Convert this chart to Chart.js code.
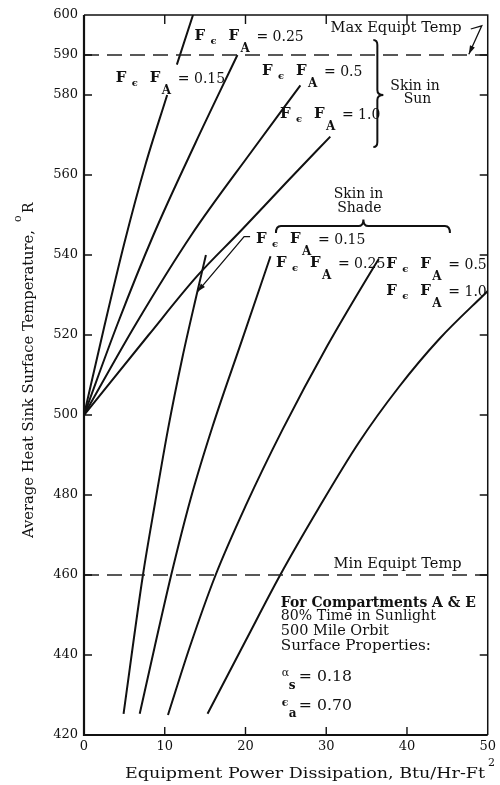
<!DOCTYPE html>
<html>
<head>
<meta charset="utf-8">
<script src="https://cdn.jsdelivr.net/npm/chart.js@4.4.1/dist/chart.umd.min.js"></script>
<style>
  html, body { margin: 0; padding: 0; background: #fff; }
  canvas { display: block; }
</style>
</head>
<body>
<canvas id="c" width="500" height="785"></canvas>
<script>
// ---------- data ----------
const xTickValues = [0, 10, 20, 30, 40, 50];
const yTickValues = [420, 440, 460, 480, 500, 520, 540, 560, 580, 590, 600];

const maxEquipTemp = 590;
const minEquipTemp = 460;

// Skin in Sun curves
const sun015X = [0, 2.5, 5.0, 7.6, 10.3, 10.9, 11.5, 13.5];
const sun015Y = [500, 522, 543, 562.5, 580, null, 587.6, 600];
const sun025X = [0, 4.2, 8.6, 13.8, 19.0];
const sun025Y = [500, 523, 545, 568, 590];
const sun05X  = [0, 6.5, 13.3, 20.8, 26.8];
const sun05Y  = [500, 523, 545, 566, 582.4];
const sun10X  = [0, 8.0, 14.0, 19.4, 25.0, 30.5];
const sun10Y  = [500, 520, 534.7, 546, 558, 569.6];

// Skin in Shade curves
const shade015X = [4.9, 7.3, 8.8, 10.4, 12.2, 14.0, 15.1];
const shade015Y = [425.3, 460, 478, 496.4, 514.5, 530.5, 540];
const shade025X = [6.9, 8.75, 10.8, 13.2, 15.9, 19.6, 23.1];
const shade025Y = [425.3, 442, 460, 479, 497, 518.9, 539.7];
const shade05X  = [10.4, 13.1, 16.3, 20.0, 24.6, 30.1, 35.7, 36.5];
const shade05Y  = [425, 442, 460, 477.2, 496.4, 517.2, 536.4, 539];
const shade10X  = [15.3, 20.0, 24.3, 29.0, 34.0, 39.0, 44.0, 50.0];
const shade10Y  = [425.3, 443.5, 460, 476.5, 493, 507, 519, 531];

// ---------- helpers ----------
const zip = (xs, ys) => xs.map((x, i) => ({ x: x, y: ys[i] }));
const SERIF = '"DejaVu Serif", "Liberation Serif", serif';
const INK = '#111';

function curve(label, xs, ys) {
  return {
    label: label, data: zip(xs, ys),
    borderColor: INK, borderWidth: 2, pointRadius: 0,
    cubicInterpolationMode: 'monotone', fill: false, spanGaps: false
  };
}
function hLine(label, v) {
  return {
    label: label, data: [{ x: 0, y: v }, { x: 50, y: v }],
    borderColor: '#222', borderWidth: 1.4, borderDash: [15, 8],
    pointRadius: 0, fill: false
  };
}

// draw text stretched horizontally to a target width
function stretch(ctx, text, x, y, target) {
  const w = ctx.measureText(text).width;
  const sx = target ? target / w : 1;
  ctx.save();
  ctx.translate(x, y);
  ctx.scale(sx, 1);
  ctx.fillText(text, 0, 0);
  ctx.restore();
}

function fLabel(ctx, x, y, val) {
  ctx.font = 'bold 15px ' + SERIF; ctx.fillText('F', x, y);
  ctx.font = 'bold 10px ' + SERIF; ctx.fillText('ϵ', x + 16, y + 4);
  ctx.font = 'bold 15px ' + SERIF; ctx.fillText('F', x + 34, y);
  ctx.font = 'bold 12px ' + SERIF; ctx.fillText('A', x + 46, y + 12);
  ctx.font = '14px ' + SERIF;      ctx.fillText('= ' + val, x + 62, y + 1);
}

const annotations = {
  id: 'annotations',
  afterDraw(chart) {
    const ctx = chart.ctx;
    const xs = chart.scales.x, ys = chart.scales.y;
    const X = v => xs.getPixelForValue(v);
    const Y = v => ys.getPixelForValue(v);
    const a = chart.chartArea;
    ctx.save();
    ctx.fillStyle = INK; ctx.strokeStyle = INK;
    ctx.textAlign = 'left'; ctx.textBaseline = 'alphabetic';

    // frame
    ctx.lineWidth = 1.5;
    ctx.beginPath();
    ctx.moveTo(a.left, a.top); ctx.lineTo(a.right, a.top); ctx.lineTo(a.right, a.bottom);
    ctx.stroke();
    ctx.lineWidth = 2.2;
    ctx.beginPath();
    ctx.moveTo(a.left, a.top); ctx.lineTo(a.left, a.bottom); ctx.lineTo(a.right, a.bottom);
    ctx.stroke();

    // inward ticks
    ctx.lineWidth = 1.4;
    ctx.beginPath();
    xTickValues.slice(1, -1).forEach(v => {
      const p = X(v);
      ctx.moveTo(p, a.bottom); ctx.lineTo(p, a.bottom - 8);
      ctx.moveTo(p, a.top); ctx.lineTo(p, a.top + 9);
    });
    yTickValues.slice(1, -1).forEach(v => {
      const p = Y(v);
      ctx.moveTo(a.left, p); ctx.lineTo(a.left + 8, p);
      ctx.moveTo(a.right, p); ctx.lineTo(a.right - 8, p);
    });
    ctx.stroke();

    // curve labels
    fLabel(ctx, X(3.94), Y(583.25), '0.15');
    fLabel(ctx, X(13.67), Y(593.75), '0.25');
    fLabel(ctx, X(22.04), Y(585), '0.5');
    fLabel(ctx, X(24.26), Y(574.25), '1.0');
    fLabel(ctx, X(21.31), Y(543), '0.15');
    fLabel(ctx, X(23.77), Y(537), '0.25');
    fLabel(ctx, X(37.44), Y(536.75), '0.5');
    fLabel(ctx, X(37.44), Y(530), '1.0');

    // plain texts
    ctx.font = '14px ' + SERIF;
    stretch(ctx, 'Max Equipt Temp', X(30.54), Y(595.75), 131);
    stretch(ctx, 'Min Equipt Temp', X(30.91), Y(461.75), 128);
    ctx.textAlign = 'center';
    ctx.fillText('Skin in', X(41.0), Y(581.25));
    ctx.fillText('Sun', X(41.3), Y(578));
    ctx.fillText('Skin in', X(34.0), Y(554.25));
    ctx.fillText('Shade', X(34.1), Y(550.75));
    ctx.textAlign = 'left';

    // note block
    const nx = X(24.38);
    ctx.font = 'bold 14px ' + SERIF;
    stretch(ctx, 'For Compartments A & E', nx, Y(452), 195);
    ctx.font = '14px ' + SERIF;
    stretch(ctx, '80% Time in Sunlight', nx, Y(448.75), 155);
    stretch(ctx, '500 Mile Orbit', nx, Y(445), 108);
    stretch(ctx, 'Surface Properties:', nx, Y(441.25), 150);
    ctx.font = '11px ' + SERIF; ctx.fillText('α', nx + 1, Y(434.8));
    ctx.font = 'bold 12px ' + SERIF; ctx.fillText('s', nx + 8, Y(431.5));
    ctx.font = '14px ' + SERIF; stretch(ctx, '= 0.18', nx + 18, Y(433.5), 53);
    ctx.font = 'bold 11px ' + SERIF; ctx.fillText('ϵ', nx + 1, Y(427.3));
    ctx.font = 'bold 12px ' + SERIF; ctx.fillText('a', nx + 8, Y(424.5));
    ctx.font = '14px ' + SERIF; stretch(ctx, '= 0.70', nx + 18, Y(426.25), 53);

    // brace for Skin in Sun
    ctx.lineWidth = 2;
    const bx = X(36.33), tipx = X(36.95);
    const bt = Y(593.75), bm = Y(580), bb = Y(567);
    ctx.beginPath();
    ctx.moveTo(bx - 4, bt);
    ctx.quadraticCurveTo(bx, bt, bx, bt + 5);
    ctx.lineTo(bx, bm - 5);
    ctx.quadraticCurveTo(bx, bm, tipx + 1, bm);
    ctx.quadraticCurveTo(bx, bm, bx, bm + 5);
    ctx.lineTo(bx, bb - 5);
    ctx.quadraticCurveTo(bx, bb, bx - 4, bb);
    ctx.stroke();

    // brace for Skin in Shade
    const l = X(23.77), r = X(45.32), m = X(34.6);
    const hy = Y(547.25), ey = Y(545.5), ty = Y(548.9);
    ctx.beginPath();
    ctx.moveTo(l, ey);
    ctx.quadraticCurveTo(l, hy, l + 5, hy);
    ctx.lineTo(m - 5, hy);
    ctx.quadraticCurveTo(m, hy, m, ty);
    ctx.quadraticCurveTo(m, hy, m + 5, hy);
    ctx.lineTo(r - 5, hy);
    ctx.quadraticCurveTo(r, hy, r, ey);
    ctx.stroke();

    // arrows
    function arrow(pts) {
      ctx.lineWidth = 1.3;
      ctx.beginPath();
      ctx.moveTo(pts[0][0], pts[0][1]);
      for (let i = 1; i < pts.length; i++) ctx.lineTo(pts[i][0], pts[i][1]);
      ctx.stroke();
      const [x1, y1] = pts[pts.length - 2], [x2, y2] = pts[pts.length - 1];
      const ang = Math.atan2(y2 - y1, x2 - x1);
      ctx.beginPath();
      ctx.moveTo(x2, y2);
      ctx.lineTo(x2 - 9 * Math.cos(ang - 0.3), y2 - 9 * Math.sin(ang - 0.3));
      ctx.lineTo(x2 - 9 * Math.cos(ang + 0.3), y2 - 9 * Math.sin(ang + 0.3));
      ctx.closePath();
      ctx.fill();
    }
    arrow([[X(47.9), Y(596.5)], [X(49.26), Y(597.3)], [X(47.66), Y(590.2)]]);
    arrow([[X(20.57), Y(544.6)], [X(19.83), Y(544.6)], [X(14.04), Y(530.8)]]);

    // axis titles
    ctx.font = '14px ' + SERIF;
    stretch(ctx, 'Equipment Power Dissipation, Btu/Hr-Ft', 125, 778, 360);
    ctx.font = '11px ' + SERIF;
    ctx.fillText('2', 488, 766);

    ctx.save();
    ctx.translate(33, 538);
    ctx.rotate(-Math.PI / 2);
    ctx.font = '14px ' + SERIF;
    stretch(ctx, 'Average Heat Sink Surface Temperature,', 0, 0, 308);
    ctx.font = '11px ' + SERIF;
    ctx.fillText('o', 316, -12);
    ctx.font = '14px ' + SERIF;
    ctx.fillText('R', 325, 0);
    ctx.restore();

    ctx.restore();
  }
};

new Chart(document.getElementById('c').getContext('2d'), {
  type: 'line',
  data: {
    datasets: [
      hLine('Max Equipt Temp', maxEquipTemp),
      hLine('Min Equipt Temp', minEquipTemp),
      curve('Sun 0.15', sun015X, sun015Y),
      curve('Sun 0.25', sun025X, sun025Y),
      curve('Sun 0.5', sun05X, sun05Y),
      curve('Sun 1.0', sun10X, sun10Y),
      curve('Shade 0.15', shade015X, shade015Y),
      curve('Shade 0.25', shade025X, shade025Y),
      curve('Shade 0.5', shade05X, shade05Y),
      curve('Shade 1.0', shade10X, shade10Y)
    ]
  },
  options: {
    responsive: false,
    animation: false,
    layout: { padding: { top: 15, right: 10, left: 0, bottom: 0 } },
    plugins: { legend: { display: false }, tooltip: { enabled: false } },
    scales: {
      x: {
        type: 'linear', min: 0, max: 50,
        afterBuildTicks: s => { s.ticks = xTickValues.map(v => ({ value: v })); },
        afterFit: s => { s.height = 50; },
        ticks: { padding: 4, color: INK, maxRotation: 0, autoSkip: false,
                 font: { family: SERIF, size: 13 } },
        grid: { display: false, drawTicks: false },
        border: { display: false }
      },
      y: {
        type: 'linear', min: 420, max: 600,
        afterBuildTicks: s => { s.ticks = yTickValues.map(v => ({ value: v })); },
        afterFit: s => { s.width = 84; },
        ticks: { padding: 6, color: INK, autoSkip: false,
                 font: { family: SERIF, size: 13 } },
        grid: { display: false, drawTicks: false },
        border: { display: false }
      }
    }
  },
  plugins: [annotations]
});
</script>
</body>
</html>
